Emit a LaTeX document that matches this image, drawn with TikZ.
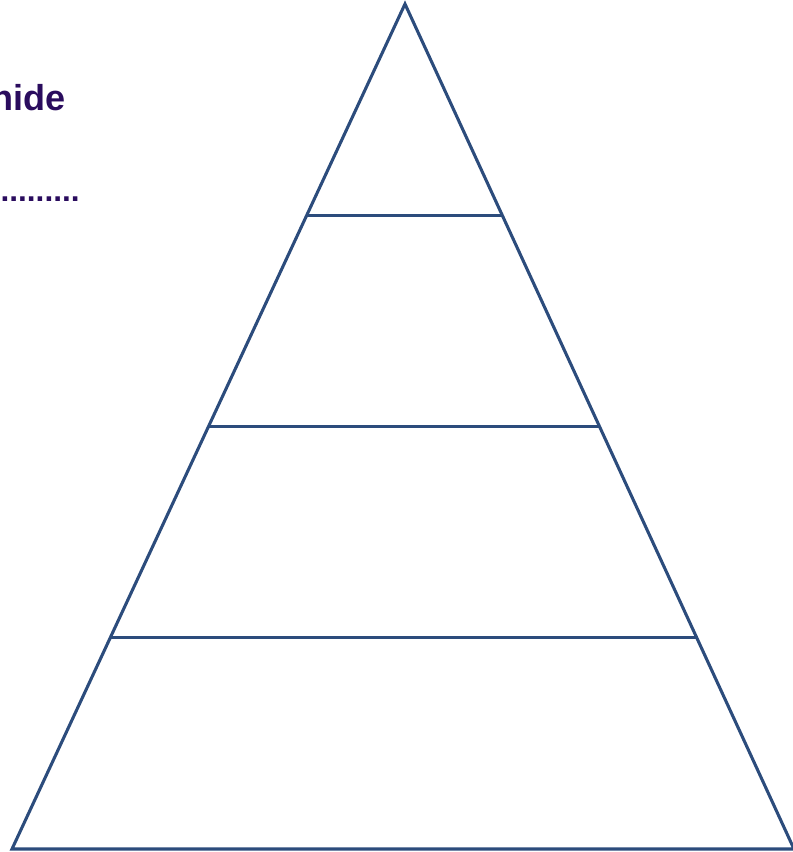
\documentclass[tikz,border=0pt]{standalone}
\usepackage{fontspec}
\setmainfont{Liberation Sans}
\usetikzlibrary{positioning,calc}
\definecolor{pyrline}{HTML}{2C4C7C}
\definecolor{pyrtext}{HTML}{2A0C5E}
\begin{document}
\begin{tikzpicture}[
        x=0.02cm, y=-0.02cm,
        level/.style={draw=pyrline, line width=1.75pt},
        heading/.style={text=pyrtext, font=\bfseries\fontsize{20.5}{24}\selectfont, inner sep=0pt, anchor=base east}
    ]
        \useasboundingbox (0,0) rectangle (793,852);
        \clip (0,0) rectangle (793,852);
        % heading, cut off at the left edge
        \node [heading] (title) at (66,110) {nide};
        \node [heading, font=\bfseries\fontsize{18}{22}\selectfont] (dots) at (80,201) {.........};

        % pyramid outline
        \coordinate (apex) at (405,4);
        \coordinate (bl) at (12,849);
        \coordinate (br) at (794,849);
        \draw [level, line join=miter] (bl) -- (apex) -- (br) -- cycle;

        % levels
        \draw [level] ($(apex)!0.25!(bl)$) -- ($(apex)!0.25!(br)$);
        \draw [level] ($(apex)!0.5!(bl)$) -- ($(apex)!0.5!(br)$);
        \draw [level] ($(apex)!0.75!(bl)$) -- ($(apex)!0.75!(br)$);
\end{tikzpicture}
\end{document}
